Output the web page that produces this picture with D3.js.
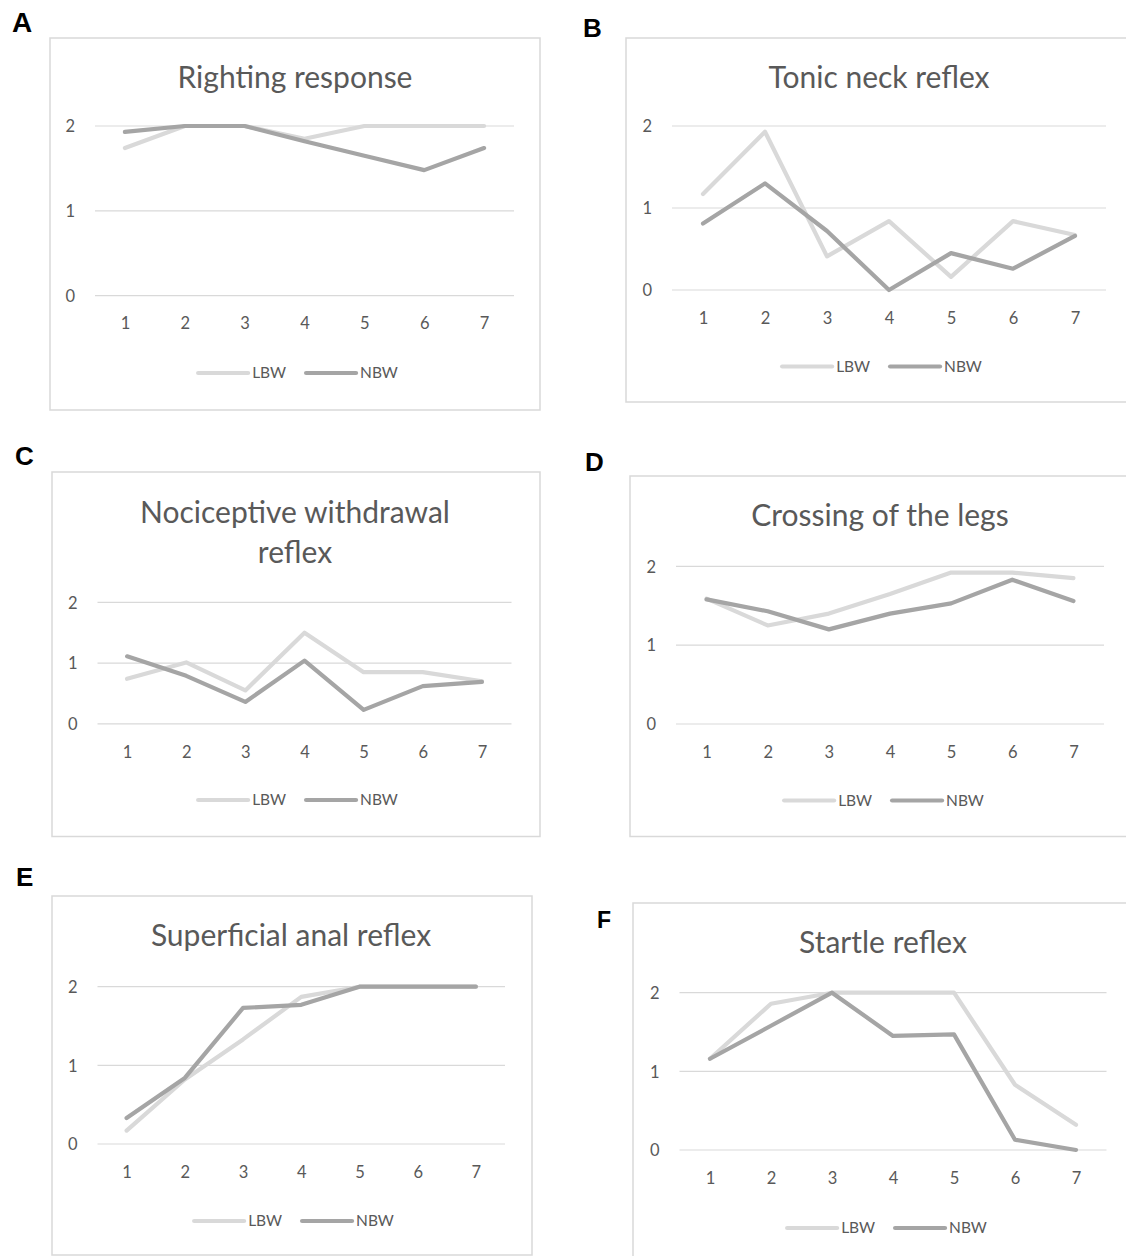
<!DOCTYPE html>
<html>
<head>
<meta charset="utf-8">
<script src="https://cdn.jsdelivr.net/npm/d3@7"></script>
<style>
  html, body { margin: 0; padding: 0; background: #fff; }
  svg { display: block; }
</style>
</head>
<body>
<svg id="chart" width="1126" height="1256"></svg>
<script>
// ---------- DATA ----------
const categories = [1, 2, 3, 4, 5, 6, 7];
const yTicks = [0, 1, 2];
const seriesNames = ["LBW", "NBW"];

const titleA = ["Righting response"];
const lbwA = [1.74, 2.0, 2.0, 1.85, 2.0, 2.0, 2.0];
const nbwA = [1.93, 2.0, 2.0, 1.82, 1.65, 1.48, 1.74];

const titleB = ["Tonic neck reflex"];
const lbwB = [1.17, 1.93, 0.41, 0.84, 0.16, 0.84, 0.67];
const nbwB = [0.81, 1.30, 0.72, 0.0, 0.45, 0.26, 0.66];

const titleC = ["Nociceptive withdrawal", "reflex"];
const lbwC = [0.74, 1.01, 0.55, 1.50, 0.85, 0.85, 0.70];
const nbwC = [1.11, 0.79, 0.36, 1.04, 0.23, 0.62, 0.69];

const titleD = ["Crossing of the legs"];
const lbwD = [1.59, 1.25, 1.40, 1.65, 1.92, 1.92, 1.85];
const nbwD = [1.58, 1.43, 1.20, 1.40, 1.53, 1.83, 1.56];

const titleE = ["Superficial anal reflex"];
const lbwE = [0.17, 0.82, 1.33, 1.87, 2.0, 2.0, 2.0];
const nbwE = [0.33, 0.84, 1.73, 1.77, 2.0, 2.0, 2.0];

const titleF = ["Startle reflex"];
const lbwF = [1.16, 1.86, 2.0, 2.0, 2.0, 0.83, 0.32];
const nbwF = [1.16, 1.58, 2.0, 1.45, 1.47, 0.13, 0.0];

const panelLetters = ["A", "B", "C", "D", "E", "F"];

// ---------- LAYOUT (positions only) ----------
const layout = [
  { letter: [12, 32, 28], box: [50, 38, 540, 410], plot: [95, 514, 126, 295.7], title: [295, 77], legend: [298, 373] },
  { letter: [583, 37, 26], box: [626, 38, 1140, 402], plot: [672, 1106, 126, 290], title: [879, 77], legend: [882, 366.5] },
  { letter: [15, 465, 26], box: [52, 472, 540, 836.5], plot: [97.5, 511.5, 602.3, 723.8], title: [295, 512], legend: [298, 800] },
  { letter: [585, 471, 26], box: [630, 476, 1140, 836.5], plot: [676, 1104, 566.3, 724], title: [880, 515], legend: [884, 800.5] },
  { letter: [16, 886, 26], box: [52, 896, 532, 1255], plot: [97.5, 505, 986.7, 1144], title: [291, 935], legend: [294, 1221] },
  { letter: [597, 928, 23], box: [633, 903, 1140, 1270], plot: [679.5, 1106.5, 992.7, 1150], title: [883, 942], legend: [887, 1228] }
];

const panels = [
  { title: titleA, series: [lbwA, nbwA] },
  { title: titleB, series: [lbwB, nbwB] },
  { title: titleC, series: [lbwC, nbwC] },
  { title: titleD, series: [lbwD, nbwD] },
  { title: titleE, series: [lbwE, nbwE] },
  { title: titleF, series: [lbwF, nbwF] }
];

const seriesColors = ["#d9d9d9", "#a5a5a5"];
const textColor = "#595959";
const gridColor = "#d9d9d9";
const font = "Lato, 'Open Sans', sans-serif";

const svg = d3.select("#chart");

panels.forEach((p, i) => {
  const L = layout[i];
  const g = svg.append("g");

  // panel letter
  g.append("text")
    .attr("x", L.letter[0]).attr("y", L.letter[1])
    .attr("font-family", "'Liberation Sans', Arial, sans-serif")
    .attr("font-weight", "bold")
    .attr("font-size", L.letter[2])
    .attr("fill", "#000")
    .text(panelLetters[i]);

  // chart box
  g.append("rect")
    .attr("x", L.box[0]).attr("y", L.box[1])
    .attr("width", L.box[2] - L.box[0]).attr("height", L.box[3] - L.box[1])
    .attr("fill", "#fff").attr("stroke", gridColor).attr("stroke-width", 1.5);

  const x = d3.scalePoint().domain(categories).range([L.plot[0], L.plot[1]]).padding(0.5);
  const y = d3.scaleLinear().domain([0, 2]).range([L.plot[3], L.plot[2]]);

  // gridlines
  g.append("g").selectAll("line").data(yTicks).join("line")
    .attr("x1", L.plot[0]).attr("x2", L.plot[1])
    .attr("y1", d => y(d)).attr("y2", d => y(d))
    .attr("stroke", gridColor).attr("stroke-width", 1.2);

  // y axis via d3.axisLeft (no line, no ticks)
  const ya = g.append("g")
    .attr("transform", `translate(${L.plot[0] - 20},0)`)
    .call(d3.axisLeft(y).tickValues(yTicks).tickSize(0).tickPadding(0).tickFormat(d3.format("d")));
  ya.select(".domain").remove();
  ya.selectAll("text").attr("font-family", font).attr("font-size", 16.5).attr("fill", textColor).attr("dy", "0.35em");

  // x axis
  const xa = g.append("g")
    .attr("transform", `translate(0,${L.plot[3] + 28})`)
    .call(d3.axisBottom(x).tickSize(0).tickPadding(0));
  xa.select(".domain").remove();
  xa.selectAll("text").attr("font-family", font).attr("font-size", 16.5).attr("fill", textColor).attr("dy", "0.35em");

  // title
  const t = g.append("text")
    .attr("x", L.title[0]).attr("y", L.title[1])
    .attr("text-anchor", "middle")
    .attr("font-family", font).attr("font-size", 30).attr("fill", textColor);
  p.title.forEach((line, k) => {
    t.append("tspan").attr("x", L.title[0]).attr("dy", k === 0 ? "0.35em" : 40).text(line);
  });

  // lines
  const lineGen = d3.line().x((d, j) => x(categories[j])).y(d => y(d));
  p.series.forEach((s, k) => {
    g.append("path").datum(s)
      .attr("d", lineGen)
      .attr("fill", "none")
      .attr("stroke", seriesColors[k])
      .attr("stroke-width", 4.2)
      .attr("stroke-linejoin", "round")
      .attr("stroke-linecap", "round");
  });

  // legend
  const lg = g.append("g");
  const lineLen = 50, gap1 = 4, gap2 = 20;
  let cx = 0;
  seriesNames.forEach((name, k) => {
    const item = lg.append("g");
    item.append("line").attr("x1", cx).attr("x2", cx + lineLen).attr("y1", 0).attr("y2", 0)
      .attr("stroke", seriesColors[k]).attr("stroke-width", 4.2).attr("stroke-linecap", "round");
    const tx = item.append("text").attr("x", cx + lineLen + gap1).attr("y", 0).attr("dy", "0.35em")
      .attr("font-family", font).attr("font-size", 15.5).attr("fill", textColor).text(name);
    cx += lineLen + gap1 + tx.node().getComputedTextLength() + gap2;
  });
  const total = cx - gap2;
  lg.attr("transform", `translate(${L.legend[0] - total / 2},${L.legend[1]})`);
});
</script>
</body>
</html>
